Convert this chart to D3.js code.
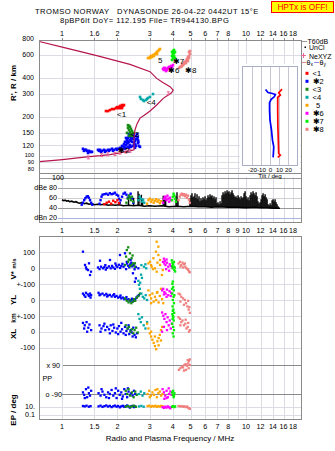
<!DOCTYPE html>
<html><head><meta charset="utf-8">
<script src="https://cdn.jsdelivr.net/npm/d3@7"></script>
<style>
body{margin:0;background:#fff}
svg{display:block}
text{font-family:"Liberation Sans",Arial,sans-serif;fill:#000}
</style>
</head><body>
<svg id="c" width="335" height="451"></svg>
<script>
// ---- axis ticks ----
const topFreqTicks = [1,1.5,2,3,4,5,6,7,8,10,12,14,16,18];
const topFreqText  = ["1","1.6","2","3","4","5","6","7","8","10","12","14","16","18"];
const midFreqTicks = [1,1.5,2,3,4,5,6,7,8,9,10,12,14,16,18];
const botFreqTicks = [1,1.5,2,3,4,5,6,7,8,10,12,14,16,18];
const gridFreqs    = [1,1.5,2,3,4,5,6,7,8,9,10,12,14,16,18];
const heightTicks  = [800,600,400,300,200,150,120,100,90,80];
const tiltTicks    = [-20,-10,0,10,20];

// ---- echo classes ----
const echoLabels = ["<1","\u27312","<3","<4","5","\u27316","\u27317","\u27318"];
const echoColors = ["#ff0000","#0000ff","#168c16","#00a8a8","#ffa500","#ff00ff","#00ee00","#f08080"];

// virtual height of echoes [echo, MHz, km]
const virtualHeights = [
 [1,1.734,221],[1,1.779,221],[1,1.823,225],[1,1.870,229],[1,1.917,229],[1,1.966,233],[1,1.99,237],[1,2.015,233],[1,2.04,237],[1,2.066,242],[1,2.09,237],[1,2.119,246],[1,2.145,242],[1,2.172,246],[1,2.066,233],[1,2.119,233],
 [2,1.300,113],[2,1.334,111],[2,1.350,111],[2,1.367,109],[2,1.402,109],[2,1.420,107],[2,1.438,107],[2,1.456,107],[2,1.316,109],[2,1.385,105],
 [2,1.569,111],[2,1.589,109],[2,1.609,111],[2,1.650,109],[2,1.692,111],[2,1.734,109],[2,1.779,111],[2,1.823,111],[2,1.870,113],[2,1.917,111],[2,1.966,113],[2,2.015,113],[2,2.066,115],[2,2.119,113],[2,2.172,117],[2,2.227,115],[2,2.284,117],[2,2.342,119],[2,1.629,107],[2,1.713,107],[2,1.80,109],[2,1.893,109],[2,1.99,111],[2,2.09,111],[2,2.199,113],[2,2.312,115],
 [2,2.119,119],[2,2.172,123],[2,2.199,128],[2,2.227,121],[2,2.255,132],[2,2.284,137],[2,2.284,125],[2,2.312,142],[2,2.342,132],[2,2.342,121],[2,2.371,137],[2,2.401,144],[2,2.401,128],[2,2.431,135],[2,2.462,139],[2,2.462,123],[2,2.493,130],[2,2.524,142],[2,2.524,119],[2,2.556,135],[2,2.588,125],[2,2.621,119],[2,2.654,117],[2,2.227,137],[2,2.312,147],[2,2.431,119],[2,2.371,117],[2,2.493,115],[2,2.556,147],[2,2.172,117],[2,2.371,130],[2,2.431,142],[2,2.255,125],[2,2.588,132],
 [2,2.30,128],[2,2.40,136],[2,2.47,127],[2,2.52,134],[2,2.35,141],[2,2.26,131],[2,2.44,147],[2,2.58,139],[2,2.60,128],[2,2.50,122],
 [3,2.284,172],[3,2.312,170],[3,2.284,164],[3,2.342,167],[3,2.312,158],[3,2.371,161],[3,2.342,152],[3,2.401,155],[3,2.371,147],[3,2.431,150],[3,2.342,144],[3,2.401,142],[3,2.255,150],[3,2.312,142],
 [4,2.654,284],[4,2.687,274],[4,2.755,269],[4,2.790,264],[4,2.861,269],[4,2.897,274],[4,2.934,279],[4,3.008,284],[4,3.123,299],
 [5,2.934,567],[5,3.008,577],[5,3.046,588],[5,3.084,577],[5,3.123,598],[5,3.162,588],[5,3.202,609],[5,3.242,620],[5,3.283,631],[5,3.324,642],[5,3.366,654],[5,3.408,666],[5,3.283,609],[5,3.008,567],
 [6,3.539,467],[6,3.583,459],[6,3.629,475],[6,3.674,467],[6,3.721,459],[6,3.768,475],[6,3.815,484],[6,3.864,475],[6,3.912,492],[6,3.962,484],[6,4.011,501],[6,3.674,450],[6,3.583,475],[6,3.864,459],
 [7,3.962,631],[7,4.011,642],[7,4.062,654],[7,4.011,609],[7,4.062,620],[7,3.962,588],[7,4.062,588],[7,4.011,567],[7,3.962,548],[7,4.113,631],[7,4.113,567],
 [8,4.962,642],[8,4.900,631],[8,4.962,609],[8,4.900,588],[8,4.839,577],[8,4.900,567],[8,4.779,557],[8,4.839,538],[8,4.719,538],[8,4.661,519],[8,4.719,519],[8,4.603,510],[8,4.546,501],[8,4.489,492],[8,4.433,484],[8,4.378,484],[8,4.324,475],[8,4.489,510],[8,4.603,528],[8,4.779,548]
];
// echo tags in the height panel [echo, MHz, km]
const echoTags = [[1,1.99,210],[2,2.015,111],[3,2.342,146],[4,2.886,258],[5,3.324,548],[6,3.768,455],[7,4.0,538],[8,4.661,459]];

// model profile (upper branch, nose, lower branch) [MHz, km]
const profile = [[0.753,761],[1.016,686],[1.545,591],[2.34,507],[3.01,445],[3.27,395],[3.55,366],[3.864,341],[4.02,321],[3.94,306],[3.78,294],[3.55,277],[3.27,246],[3.01,221],[2.80,205],[2.654,195],[2.556,176],[2.493,158],[2.462,139],[2.462,111],[2.342,109],[2.066,105],[1.823,102],[1.609,100],[1.367,98],[0.975,93],[0.753,90]];
const neXYZ = [[1.390,97],[1.643,101],[1.772,102.5],[1.941,103],[2.066,105.5],[2.227,107.5],[2.342,109],[3.78,303]];

// tilt profiles [deg, km]
const tiltX = [[13.1,326],[9.5,306],[11.3,294],[8.4,282],[8.4,225],[8.6,167],[9.5,104],[11.3,101],[8.4,97]];
const tiltY = [[-4.8,324],[-2.2,307],[2.7,302],[5.9,297],[4.8,286],[1.1,271],[-0.5,257],[-0.5,225],[0,188],[1.6,158],[2.7,132],[4.1,117],[3.8,107],[3.4,97]];

// amplitude panel
const noiseFloor = [[1.00,56],[1.02,54],[1.04,55],[1.06,53],[1.08,54],[1.10,52],[1.13,53],[1.16,51],[1.19,52],[1.22,50],[1.25,49],[1.28,50],[1.32,48],[1.36,49],[1.40,47],[1.45,48],[1.50,46],[1.56,47],[1.62,46],[1.70,47],[1.78,45],[1.86,46],[1.95,45],[2.05,46],[2.15,44],[2.3,45],[2.45,44],[2.6,45],[2.8,43],[3.0,44],[3.2,43],[3.5,44],[3.8,42],[4.2,43],[4.6,42],[5.0,43],[5.5,42],[6.0,42],[6.5,41],[7.0,42],[8.0,41],[9.0,41],[10.0,40],[11.0,41],[12.0,40],[13.0,40],[14.0,39],[15.3,39]];
const noiseSpikes = [[2.30,63],[2.45,60],[2.59,73],[2.62,68],[2.70,66],[2.74,58],[3.55,64],[3.62,60],[3.66,56],
 [4.165,63],[4.217,71],[4.270,55],[4.962,59],[5.024,65],[5.088,69],[5.152,61],[5.216,63],[5.283,69],[5.349,59],[5.417,67],[5.485,57],[5.554,63],[5.624,53],[5.694,59],[5.766,55],[5.838,61],[5.912,57],[5.988,63],[6.062,55],[6.139,59],[6.216,65],[6.294,61],[6.375,67],[6.455,63],[6.536,65],[6.618,59],[6.701,63],[6.787,57],[6.872,61],[6.958,49],[7.046,51],[7.134,47],[7.226,53],[7.316,49],[7.408,65],[7.501,71],[7.596,67],[7.693,73],[7.789,69],[7.887,75],[7.987,71],[8.088,73],[8.190,67],[8.293,71],[8.397,75],[8.503,69],[8.610,65],[8.720,61],[8.829,63],[8.940,59],[9.053,65],[9.167,61],[9.283,57],[9.400,63],[9.518,59],[9.638,61],[9.759,69],[9.883,73],[10.007,63],[10.13,57],[10.26,61],[10.39,55],[10.52,65],[10.65,71],[10.79,67],[10.92,73],[11.06,69],[11.20,65],[11.34,71],[11.48,63],[11.62,53],[11.77,49],[11.93,51],[12.08,57],[12.23,65],[12.38,69],[12.54,63],[12.70,67],[12.86,61],[13.02,57],[13.18,47],[13.35,45],[13.52,49],[13.69,45],[13.86,55],[14.03,57],[14.21,53],[14.39,57],[14.57,51],[14.75,47],[14.94,43]];
const echoAmplitude = [
 [2,1.28,46],[2,1.30,50],[2,1.32,55],[2,1.34,59],[2,1.36,62],[2,1.38,63],[2,1.40,60],[2,1.42,55],[2,1.44,50],[2,1.46,46],
 [2,1.60,48],[2,1.62,55],[2,1.64,62],[2,1.66,66],[2,1.70,67],[2,1.74,68],[2,1.78,66],[2,1.82,69],[2,1.86,67],[2,1.90,68],[2,1.94,70],[2,1.98,66],[2,2.02,64],[2,2.04,58],[2,2.06,50],
 [2,2.08,55],[2,2.12,62],[2,2.16,68],[2,2.20,70],[2,2.24,66],[2,2.28,60],[2,2.32,64],[2,2.36,68],[2,2.40,58],[2,2.44,50],
 [1,1.70,47],[1,1.75,50],[1,1.80,52],[1,1.85,48],[1,1.90,54],[1,1.95,51],[1,2.00,55],[1,2.04,49],
 [3,2.24,50],[3,2.28,58],[3,2.31,64],[3,2.34,60],[3,2.37,55],[3,2.40,62],[3,2.44,52],
 [4,2.60,55],[4,2.64,62],[4,2.68,58],[4,2.72,52],[4,2.76,56],[4,2.80,50],
 [5,2.90,48],[5,2.95,55],[5,3.00,58],[5,3.05,52],[5,3.10,56],[5,3.15,50],[5,3.20,54],[5,3.25,57],[5,3.30,52],[5,3.35,55],[5,3.40,49],[5,3.45,53],
 [6,3.54,50],[6,3.58,58],[6,3.62,62],[6,3.66,60],[6,3.70,55],[6,3.74,64],[6,3.78,58],[6,3.82,52],[6,3.86,60],[6,3.90,55],
 [7,3.96,55],[7,4.00,62],[7,4.04,68],[7,4.08,64],[7,4.12,58],[7,4.16,52],
 [8,4.30,55],[8,4.36,62],[8,4.42,66],[8,4.48,68],[8,4.54,65],[8,4.60,67],[8,4.66,63],[8,4.72,66],[8,4.78,60],[8,4.84,64],[8,4.90,56],[8,4.95,50]
];

// line-of-sight velocity V* [echo, MHz, m/s]
const vStar = [
 [2,1.300,104],[2,1.334,21],[2,1.385,-11],[2,1.420,-42],[2,1.350,6],[2,1.438,-21],[2,1.402,31],[2,1.36,-5],
 [2,1.569,5],[2,1.60,-5],[2,1.63,10],[2,1.67,0],[2,1.70,8],[2,1.73,-8],[2,1.76,3],[2,1.80,12],[2,1.84,0],[2,1.87,15],[2,1.90,5],[2,1.94,-3],[2,1.97,18],[2,2.00,8],[2,2.04,22],[2,2.07,2],[2,2.10,14],[2,2.13,28],[2,2.16,10],[2,2.20,20],[2,2.23,-5],[2,2.26,30],[2,2.29,16],[2,2.32,6],[2,2.35,24],[2,2.38,35],[2,2.41,12],[2,2.45,20],[2,2.48,-6],[2,2.52,8],[2,1.609,47],[2,1.823,52],[2,2.066,83],[2,2.199,94],[2,2.36,52],[2,2.49,-84],[2,2.52,-63],[2,2.43,-31],[2,1.72,20],[2,1.95,30],[2,2.25,40],[2,2.6,0],
 [3,2.29,131],[3,2.25,114],[3,2.34,94],[3,2.23,73],[3,2.39,63],[3,2.29,41],[3,2.44,31],[3,2.49,10],[3,2.34,14],[3,2.20,21],[3,2.39,21],[3,2.49,31],[3,2.31,55],[3,2.42,80],
 [4,2.70,20],[4,2.79,10],[4,2.87,0],[4,2.69,-40],[4,2.66,-90],[4,2.72,-60],[4,2.84,25],
 [5,3.27,166],[5,3.34,135],[5,3.24,104],[5,3.34,83],[5,3.14,63],[5,3.41,52],[5,2.95,31],[5,3.07,10],[5,3.20,0],[5,3.41,21],[5,3.27,-21],[5,3.53,-11],[5,3.01,41],[5,3.49,-42],[5,3.05,20],[5,3.30,35],[5,3.12,-5],
 [6,3.54,40],[6,3.60,30],[6,3.65,20],[6,3.72,35],[6,3.78,10],[6,3.85,25],[6,3.90,15],[6,3.96,5],[6,3.68,-5],[6,3.62,45],[6,3.82,-15],[6,3.58,60],[6,3.70,55],
 [7,3.95,50],[7,3.98,35],[7,4.02,25],[7,4.05,10],[7,4.00,0],[7,4.08,-10],[7,4.12,-20],[7,3.97,15],[7,4.06,40],[7,4.10,5],
 [8,4.30,30],[8,4.38,40],[8,4.45,20],[8,4.52,35],[8,4.60,25],[8,4.68,10],[8,4.75,0],[8,4.82,-5],[8,4.90,-20],[8,4.40,10],[8,4.55,5],[8,4.85,-10],[8,4.95,-25],[8,4.65,30]
];
// echo location YL [echo, MHz, km]
const yLoc = [
 [2,1.30,40],[2,1.32,30],[2,1.35,45],[2,1.38,35],[2,1.40,25],[2,1.42,40],[2,1.44,30],[2,1.34,20],[2,1.43,15],
 [2,1.58,45],[2,1.62,35],[2,1.66,40],[2,1.70,30],[2,1.74,38],[2,1.78,28],[2,1.82,32],[2,1.86,22],[2,1.90,30],[2,1.94,20],[2,1.98,25],[2,2.02,15],[2,2.06,20],[2,2.10,10],[2,2.14,15],[2,2.18,5],[2,2.22,10],[2,2.26,0],[2,2.30,5],[2,2.34,-5],[2,2.38,0],[2,2.42,-10],[2,2.46,-5],[2,2.50,5],[2,2.54,15],[2,2.58,25],[2,2.62,30],[2,1.60,30],[2,1.76,22],[2,1.92,36],[2,2.08,28],[2,2.24,18],[2,2.40,8],
 [3,2.20,10],[3,2.25,-5],[3,2.30,-15],[3,2.34,0],[3,2.38,-20],[3,2.42,-10],[3,2.46,5],[3,2.50,-5],[3,2.55,15],[3,2.60,25],[3,2.65,40],
 [4,2.60,120],[4,2.65,70],[4,2.70,40],[4,2.75,20],[4,2.80,10],[4,2.85,30],[4,2.90,0],[4,2.62,95],
 [5,2.95,60],[5,3.00,30],[5,3.05,10],[5,3.10,40],[5,3.15,-10],[5,3.20,20],[5,3.25,0],[5,3.30,50],[5,3.35,-15],[5,3.40,25],[5,3.45,70],[5,3.50,5],[5,3.55,-20],[5,3.05,-20],[5,3.28,45],
 [6,3.50,60],[6,3.55,70],[6,3.60,50],[6,3.66,40],[6,3.72,65],[6,3.78,30],[6,3.84,55],[6,3.90,25],[6,3.58,35],[6,3.70,20],[6,3.92,45],
 [7,4.00,115],[7,3.98,100],[7,4.02,80],[7,4.05,60],[7,3.97,40],[7,4.04,20],[7,4.00,0],[7,4.06,-20],[7,3.99,-40],[7,4.03,-60],[7,4.07,-80],[7,4.01,-100],[7,4.08,30],[7,3.96,70],
 [8,4.30,40],[8,4.38,35],[8,4.45,20],[8,4.55,10],[8,4.65,0],[8,4.72,-20],[8,4.80,-40],[8,4.88,-60],[8,4.95,-80],[8,4.40,-10],[8,4.60,-30],[8,4.85,-5],[8,4.92,-45]
];
// echo location XL [echo, MHz, km]
const xLoc = [
 [2,1.30,55],[2,1.33,40],[2,1.36,60],[2,1.39,25],[2,1.41,45],[2,1.44,10],[2,1.37,0],[2,1.32,20],
 [2,1.60,40],[2,1.64,20],[2,1.68,35],[2,1.72,10],[2,1.76,30],[2,1.80,15],[2,1.84,40],[2,1.88,5],[2,1.92,25],[2,1.96,-5],[2,2.00,20],[2,2.04,35],[2,2.08,0],[2,2.12,15],[2,2.16,-10],[2,2.20,30],[2,2.24,5],[2,2.28,20],[2,2.32,-15],[2,2.36,10],[2,2.40,-5],[2,2.44,25],[2,2.48,-20],[2,2.52,-35],[2,2.56,-10],[2,1.70,50],[2,1.90,45],[2,2.10,55],[2,2.30,40],[2,1.62,0],[2,1.82,-10],[2,2.02,-15],[2,2.22,-20],[2,2.42,-30],
 [3,2.22,40],[3,2.27,20],[3,2.31,30],[3,2.35,0],[3,2.40,15],[3,2.44,-10],[3,2.48,10],[3,2.53,25],[3,2.58,-5],
 [4,2.60,110],[4,2.64,80],[4,2.68,60],[4,2.72,90],[4,2.78,40],[4,2.84,20],[4,2.90,60],
 [5,2.90,50],[5,2.95,20],[5,3.00,-10],[5,3.05,-30],[5,3.10,-50],[5,3.15,-70],[5,3.20,-90],[5,3.25,-110],[5,3.30,-60],[5,3.35,-40],[5,3.40,-20],[5,3.45,10],[5,3.50,30],[5,3.05,0],[5,3.20,-30],[5,3.35,-85],[5,3.45,-55],
 [6,3.50,120],[6,3.55,100],[6,3.60,80],[6,3.65,110],[6,3.70,60],[6,3.75,90],[6,3.80,40],[6,3.85,70],[6,3.90,20],[6,3.95,50],[6,3.58,30],[6,3.72,10],[6,3.50,0],
 [7,4.00,130],[7,3.98,110],[7,4.03,90],[7,4.05,70],[7,3.97,50],[7,4.02,30],[7,4.06,10],[7,4.00,-10],[7,4.04,-30],[7,3.99,80],
 [8,4.30,90],[8,4.38,80],[8,4.45,60],[8,4.52,70],[8,4.60,40],[8,4.68,50],[8,4.75,20],[8,4.82,30],[8,4.90,0],[8,4.95,10],[8,4.40,40],[8,4.70,75],[8,4.85,55]
];
// polarization PP [echo, MHz, deg]
const polarization = [
 [2,1.30,-80],[2,1.32,-95],[2,1.35,-60],[2,1.37,-110],[2,1.40,-85],[2,1.42,-100],[2,1.44,-70],[2,1.33,-115],[2,1.39,-50],
 [2,1.58,-85],[2,1.62,-100],[2,1.66,-75],[2,1.70,-95],[2,1.74,-110],[2,1.78,-80],[2,1.82,-90],[2,1.86,-65],[2,1.90,-100],[2,1.94,-85],[2,1.98,-115],[2,2.02,-70],[2,2.06,-95],[2,2.10,-80],[2,2.14,-105],[2,2.18,-60],[2,2.22,-90],[2,2.26,-110],[2,2.30,-75],[2,2.34,-95],[2,2.38,-85],[2,2.42,-100],[2,2.46,-70],[2,2.50,-90],[2,1.64,-60],[2,1.80,-115],[2,1.96,-55],[2,2.12,-120],[2,2.28,-55],
 [3,2.22,-70],[3,2.26,-90],[3,2.30,-60],[3,2.35,-100],[3,2.40,-80],[3,2.45,-110],[3,2.50,-75],[3,2.55,-95],
 [4,2.62,-90],[4,2.68,-75],[4,2.74,-100],[4,2.80,-85],
 [5,2.92,-90],[5,2.98,-70],[5,3.04,-100],[5,3.10,-80],[5,3.16,-95],[5,3.22,-65],[5,3.28,-110],[5,3.34,-85],[5,3.40,-75],[5,3.46,-100],[5,3.52,-90],[5,3.00,-110],[5,3.30,-60],
 [6,3.52,-60],[6,3.58,-80],[6,3.64,-100],[6,3.70,-70],[6,3.76,-110],[6,3.82,-90],[6,3.88,-75],[6,3.94,-95],[6,3.60,-120],[6,3.80,-55],[6,3.70,-115],
 [7,3.96,-80],[7,4.00,-95],[7,4.04,-110],[7,4.08,-85],[7,4.02,-70],[7,4.06,-100],
 [8,4.32,60],[8,4.40,70],[8,4.48,80],[8,4.55,75],[8,4.62,90],[8,4.70,95],[8,4.78,85],[8,4.85,100],[8,4.90,115],[8,4.95,125],[8,4.88,70],[8,4.72,60],[8,4.60,55],[8,4.95,90],[8,4.82,120]
];
// polarization error EP [echo, MHz, deg]
const polError = [
 [2,1.30,15],[2,1.33,12],[2,1.36,18],[2,1.40,10],[2,1.43,14],
 [2,1.58,12],[2,1.62,18],[2,1.66,9],[2,1.70,14],[2,1.74,20],[2,1.78,11],[2,1.82,16],[2,1.86,8],[2,1.90,13],[2,1.94,19],[2,1.98,10],[2,2.02,15],[2,2.06,7],[2,2.10,12],[2,2.14,17],[2,2.18,9],[2,2.22,14],[2,2.26,20],[2,2.30,11],[2,2.34,6],[2,2.38,13],[2,2.42,16],[2,2.46,8],[2,2.50,12],
 [3,2.22,10],[3,2.28,15],[3,2.34,8],[3,2.40,12],[3,2.46,18],[3,2.52,9],
 [4,2.62,12],[4,2.70,16],[4,2.78,10],
 [5,2.92,14],[5,2.98,18],[5,3.04,10],[5,3.10,15],[5,3.16,12],[5,3.22,17],[5,3.28,9],[5,3.34,14],[5,3.40,11],[5,3.46,16],[5,3.52,13],
 [6,3.52,8],[6,3.58,5],[6,3.64,10],[6,3.70,6],[6,3.76,12],[6,3.82,7],[6,3.88,4],[6,3.94,9],
 [7,3.96,10],[7,4.02,14],[7,4.08,8],[7,4.12,12],
 [8,4.30,15],[8,4.38,12],[8,4.46,14],[8,4.54,10],[8,4.62,13],[8,4.70,8],[8,4.78,11],[8,4.84,6],[8,4.90,4],[8,4.95,3]
];

// ---- layout ----
const svg = d3.select("#c");
const FL = 39.5, FR = 301.5, FT = 40.5, FM = 173.5, FB = 222.5, LT = 236.5, LB = 419.5;
const GRID = "#dcdce4", FRAME = "#8a8a8a";

const x    = d3.scaleLog().domain([1, 10]).range([62, 246]);
const yH   = d3.scaleLog().domain([100, 1000]).range([155.7, 26.1]);
const yDb  = d3.scaleLinear().domain([20, 100]).range([217.7, 177.7]);
const yV   = d3.scaleLinear().domain([-100, 100]).range([284.3, 252.3]);
const yYL  = d3.scaleLinear().domain([-100, 100]).range([316, 284]);
const yXL  = d3.scaleLinear().domain([-100, 100]).range([347.7, 315.7]);
const yPP  = d3.scaleLinear().domain([-90, 90]).range([394, 365]);
const yEP  = d3.scaleLog().domain([0.1, 10]).range([414.7, 406.7]);
const xTilt = d3.scaleLinear().domain([-30, 30]).range([242.5, 297.5]);
const floorAt = d3.scaleLog().domain(noiseFloor.map(d => d[0])).range(noiseFloor.map(d => d[1])).clamp(true);
const colorOf = e => echoColors[e - 1];

const defs = svg.append("defs");
[["clipH", FT, FM], ["clipDb", FM, FB], ["clipL", LT, LB]].forEach(([id, a, b]) =>
  defs.append("clipPath").attr("id", id).append("rect")
    .attr("x", FL).attr("y", a).attr("width", FR - FL).attr("height", b - a));

// ---- header ----
const mono = '"Liberation Mono","DejaVu Sans Mono",monospace';
svg.append("text").attr("x", 35).attr("y", 14).attr("font-family", mono).attr("font-size", 7.6)
  .attr("letter-spacing", 0.45).style("white-space", "pre").text("TROMSO NORWAY   DYNASONDE 26-04-22 0442UT 15\u00b0E");
svg.append("text").attr("x", 60).attr("y", 23).attr("font-family", mono).attr("font-size", 7.6)
  .attr("letter-spacing", 0.45).style("white-space", "pre").text("8pBP6It DoY= 112.195 File= TR944130.BPG");
svg.append("rect").attr("x", 271.5).attr("y", 1.5).attr("width", 62).attr("height", 11)
  .attr("fill", "#ffff00").attr("stroke", "#ff0000");
svg.append("text").attr("x", 302.5).attr("y", 10.3).attr("text-anchor", "middle")
  .attr("font-family", mono).attr("font-size", 8.3).style("fill", "#ff0000").text("HPTx is OFF!");

// ---- grids ----
const grid = svg.append("g").attr("shape-rendering", "crispEdges");
gridFreqs.forEach(f => {
  const gx = Math.round(x(f)) + 0.5;
  grid.append("line").attr("x1", gx).attr("x2", gx).attr("y1", FT).attr("y2", FB).attr("stroke", GRID);
  grid.append("line").attr("x1", gx).attr("x2", gx).attr("y1", LT).attr("y2", LB).attr("stroke", GRID);
});
heightTicks.filter(h => yH(h) > FT + 1).forEach(h => {
  const gy = Math.round(yH(h)) + 0.5;
  grid.append("line").attr("x1", FL).attr("x2", FR).attr("y1", gy).attr("y2", gy).attr("stroke", GRID);
});
[[100, "#9a9a9a", FL], [80, "#a8a8a8", 58], [60, "#cfcfcf", 58], [40, "#9a9a9a", 58], [20, "#aab4dc", 58]].forEach(([v, c, x0]) => {
  const gy = Math.round(yDb(v)) + 0.5;
  grid.append("line").attr("x1", x0).attr("x2", FR).attr("y1", gy).attr("y2", gy).attr("stroke", c);
});
const lowerLines = [yV(100), yV(0), yV(-100), yYL(0), yYL(-100), yXL(0), yXL(-100), yEP(10), yEP(0.1)];
lowerLines.forEach(v => {
  const gy = Math.round(v) + 0.5;
  grid.append("line").attr("x1", FL).attr("x2", FR).attr("y1", gy).attr("y2", gy).attr("stroke", GRID);
});
[[90, 63], [-90, 62]].forEach(([p, x0]) => {
  const gy = Math.round(yPP(p)) + 0.5;
  grid.append("line").attr("x1", x0).attr("x2", FR).attr("y1", gy).attr("y2", gy).attr("stroke", "#8a8a8a");
});

// ---- square markers ----
function squares(g, data, yScale, s) {
  g.selectAll(null).data(data).join("rect")
    .attr("x", d => x(d[1]) - s / 2).attr("y", d => yScale(d[2]) - s / 2)
    .attr("width", s).attr("height", s).attr("fill", d => colorOf(d[0]));
}

// ---- height panel ----
const gH = svg.append("g").attr("clip-path", "url(#clipH)");
squares(gH, virtualHeights, yH, 2.6);
gH.append("path").datum(profile)
  .attr("d", d3.line().x(d => x(d[0])).y(d => yH(d[1])))
  .attr("fill", "none").attr("stroke", "#b5164c").attr("stroke-width", 1.2);
neXYZ.forEach(d => {
  const px = x(d[0]), py = yH(d[1]);
  gH.append("path").attr("d", `M${px - 1.5},${py - 1.5}h3M${px},${py - 1.5}v3M${px - 1.5},${py + 1.5}h3`)
    .attr("stroke", "#e8679b").attr("stroke-width", 1).attr("fill", "none");
});
gH.selectAll(null).data(echoTags).join("text")
  .attr("x", d => x(d[1])).attr("y", d => yH(d[2]) + 3).attr("font-size", 8)
  .text(d => echoLabels[d[0] - 1]);

// ---- amplitude panel ----
const gD = svg.append("g").attr("clip-path", "url(#clipDb)");
gD.selectAll(null).data(noiseSpikes).join("line")
  .attr("x1", d => x(d[0])).attr("x2", d => x(d[0]))
  .attr("y1", d => yDb(floorAt(d[0]))).attr("y2", d => yDb(d[1]))
  .attr("stroke", "#000").attr("stroke-width", 1.4);
gD.append("path").datum(noiseFloor)
  .attr("d", d3.line().x(d => x(d[0])).y(d => yDb(d[1])))
  .attr("fill", "none").attr("stroke", "#000").attr("stroke-width", 1.6);
squares(gD, echoAmplitude, yDb, 2.4);

// ---- lower panels ----
const gL = svg.append("g").attr("clip-path", "url(#clipL)");
squares(gL, vStar, yV, 2.3);
squares(gL, yLoc, yYL, 2.3);
squares(gL, xLoc, yXL, 2.3);
squares(gL, polarization, yPP, 2.3);
squares(gL, polError, yEP, 2.3);

// ---- tilt inset ----
const gI = svg.append("g");
gI.append("rect").attr("x", 240).attr("y", 64).attr("width", 60).attr("height", 113).attr("fill", "#fff");
tiltTicks.forEach(t => {
  const tx = Math.round(xTilt(t)) + 0.5;
  gI.append("line").attr("x1", tx).attr("x2", tx).attr("y1", 66.5).attr("y2", 165)
    .attr("stroke", "#c4c6d2").attr("shape-rendering", "crispEdges");
  gI.append("text").attr("x", tx).attr("y", 172).attr("text-anchor", "middle").attr("font-size", 6.2).text(t);
});
gI.append("rect").attr("x", 242.5).attr("y", 66.5).attr("width", 55).attr("height", 98.5)
  .attr("fill", "none").attr("stroke", "#a8aec6").attr("shape-rendering", "crispEdges");
gI.append("text").attr("x", 270).attr("y", 178).attr("text-anchor", "middle").attr("font-size", 6.2).text("Tilt / deg");
const tiltLine = d3.line().x(d => xTilt(d[0])).y(d => yH(d[1]));
gI.append("path").datum(tiltY).attr("d", tiltLine).attr("fill", "none").attr("stroke", "#0000ff").attr("stroke-width", 1.7);
gI.append("path").datum(tiltX).attr("d", tiltLine).attr("fill", "none").attr("stroke", "#ff0000").attr("stroke-width", 1.7);

// ---- frames ----
const fr = svg.append("g").attr("fill", "none").attr("stroke", FRAME).attr("shape-rendering", "crispEdges");
fr.append("rect").attr("x", FL).attr("y", FT).attr("width", FR - FL).attr("height", FB - FT);
fr.append("line").attr("x1", FL).attr("x2", FR).attr("y1", FM).attr("y2", FM);
fr.append("rect").attr("x", FL).attr("y", LT).attr("width", FR - FL).attr("height", LB - LT);
topFreqTicks.forEach(f => {
  const tx = Math.round(x(f)) + 0.5;
  fr.append("line").attr("x1", tx).attr("x2", tx).attr("y1", FT - 3).attr("y2", FT);
});

// ---- axis labels ----
const ax = svg.append("g").attr("font-size", 7.2);
topFreqTicks.forEach((f, i) => ax.append("text").attr("x", x(f)).attr("y", 35.5).attr("text-anchor", "middle").text(topFreqText[i]));
midFreqTicks.forEach(f => ax.append("text").attr("x", x(f)).attr("y", 232.5).attr("text-anchor", "middle").text(f));
botFreqTicks.forEach(f => ax.append("text").attr("x", x(f)).attr("y", 428.5).attr("text-anchor", "middle").text(f));
// height labels: the lowest three sit close together, so they are set a little smaller
const heightNudge = {100: -0.6, 80: 0.6};
heightTicks.forEach(h => ax.append("text").attr("x", 34).attr("y", yH(h) + 2.1 + (heightNudge[h] || 0))
  .attr("font-size", h <= 100 ? 5.6 : 7).attr("text-anchor", "end").text(h));
[["100", 100, 64], ["dBe 80", 80, 57], ["60", 60, 57], ["40", 40, 57], ["dBn 20", 20, 57]].forEach(([t, v, ex]) =>
  ax.append("text").attr("x", ex).attr("y", yDb(v) + 2.5).attr("text-anchor", "end").text(t));
[["100", yV(100)], ["0", yV(0)], ["+-100", yV(-100)], ["0", yYL(0)], ["+-100", yYL(-100)], ["0", yXL(0)], ["-100", yXL(-100)], ["10.", yEP(10)], ["0.1", yEP(0.1)]]
  .forEach(([t, gy]) => ax.append("text").attr("x", 35).attr("y", gy + 2.5).attr("text-anchor", "end").text(t));
ax.append("text").attr("x", 46.5).attr("y", yPP(90) + 2.5).text("x 90");
ax.append("text").attr("x", 45.5).attr("y", yPP(-90) + 2.5).text("o -90");
ax.append("text").attr("x", 42.5).attr("y", 381).text("PP");
svg.append("text").attr("x", 170).attr("y", 441).attr("text-anchor", "middle").attr("font-size", 8)
  .text("Radio and Plasma Frequency / MHz");

// rotated panel titles
function vlabel(cx, cy, parts) {
  const t = svg.append("text").attr("transform", `translate(${cx},${cy}) rotate(-90)`)
    .attr("text-anchor", "middle").attr("font-weight", "bold");
  parts.forEach(([s, fs]) => t.append("tspan").attr("font-size", fs).text(s));
}
vlabel(15.5, 83, [["R', R / km", 8]]);
vlabel(15.5, 269, [["V* ", 8], ["m/s", 6]]);
vlabel(15.5, 300, [["YL", 8]]);
vlabel(15.5, 318, [["km", 6.5]]);
vlabel(15.5, 334, [["XL", 8]]);
vlabel(15.5, 410, [["EP / deg", 8]]);

// ---- legend ----
const lg = svg.append("g").attr("font-size", 7);
lg.append("line").attr("x1", 302).attr("x2", 307).attr("y1", 41.5).attr("y2", 41.5).attr("stroke", "#9a9a9a");
lg.append("text").attr("x", 307.5).attr("y", 44).text("T60dB");
lg.append("rect").attr("x", 304.5).attr("y", 46.5).attr("width", 1.5).attr("height", 1.5).attr("fill", "#000");
lg.append("text").attr("x", 309).attr("y", 50).text("UnCl");
lg.append("path").attr("d", "M301,55.5h5M303.5,53v5").attr("stroke", "#e8679b").attr("fill", "none");
lg.append("text").attr("x", 309).attr("y", 58.5).text("NeXYZ");
lg.append("line").attr("x1", 302).attr("x2", 306).attr("y1", 62.5).attr("y2", 62.5).attr("stroke", "#e08a8a");
const tx1 = lg.append("text").attr("x", 306.5).attr("y", 65);
tx1.append("tspan").text("\u03b8");
tx1.append("tspan").attr("font-size", 5).attr("dy", 1).text("x");
lg.append("line").attr("x1", 314).attr("x2", 319).attr("y1", 62.5).attr("y2", 62.5).attr("stroke", "#8a8ae0");
const tx2 = lg.append("text").attr("x", 319.5).attr("y", 65);
tx2.append("tspan").text("\u03b8");
tx2.append("tspan").attr("font-size", 5).attr("dy", 1).text("y");
echoLabels.forEach((t, i) => {
  const ly = 73.3 + i * 8;
  lg.append("rect").attr("x", 305.5).attr("y", ly - 1.5).attr("width", 3).attr("height", 3).attr("fill", echoColors[i]);
  lg.append("text").attr("x", t === "5" ? 316 : 312.5).attr("y", ly + 2.6).attr("font-size", 7.5).text(t);
});
</script>
</body></html>
